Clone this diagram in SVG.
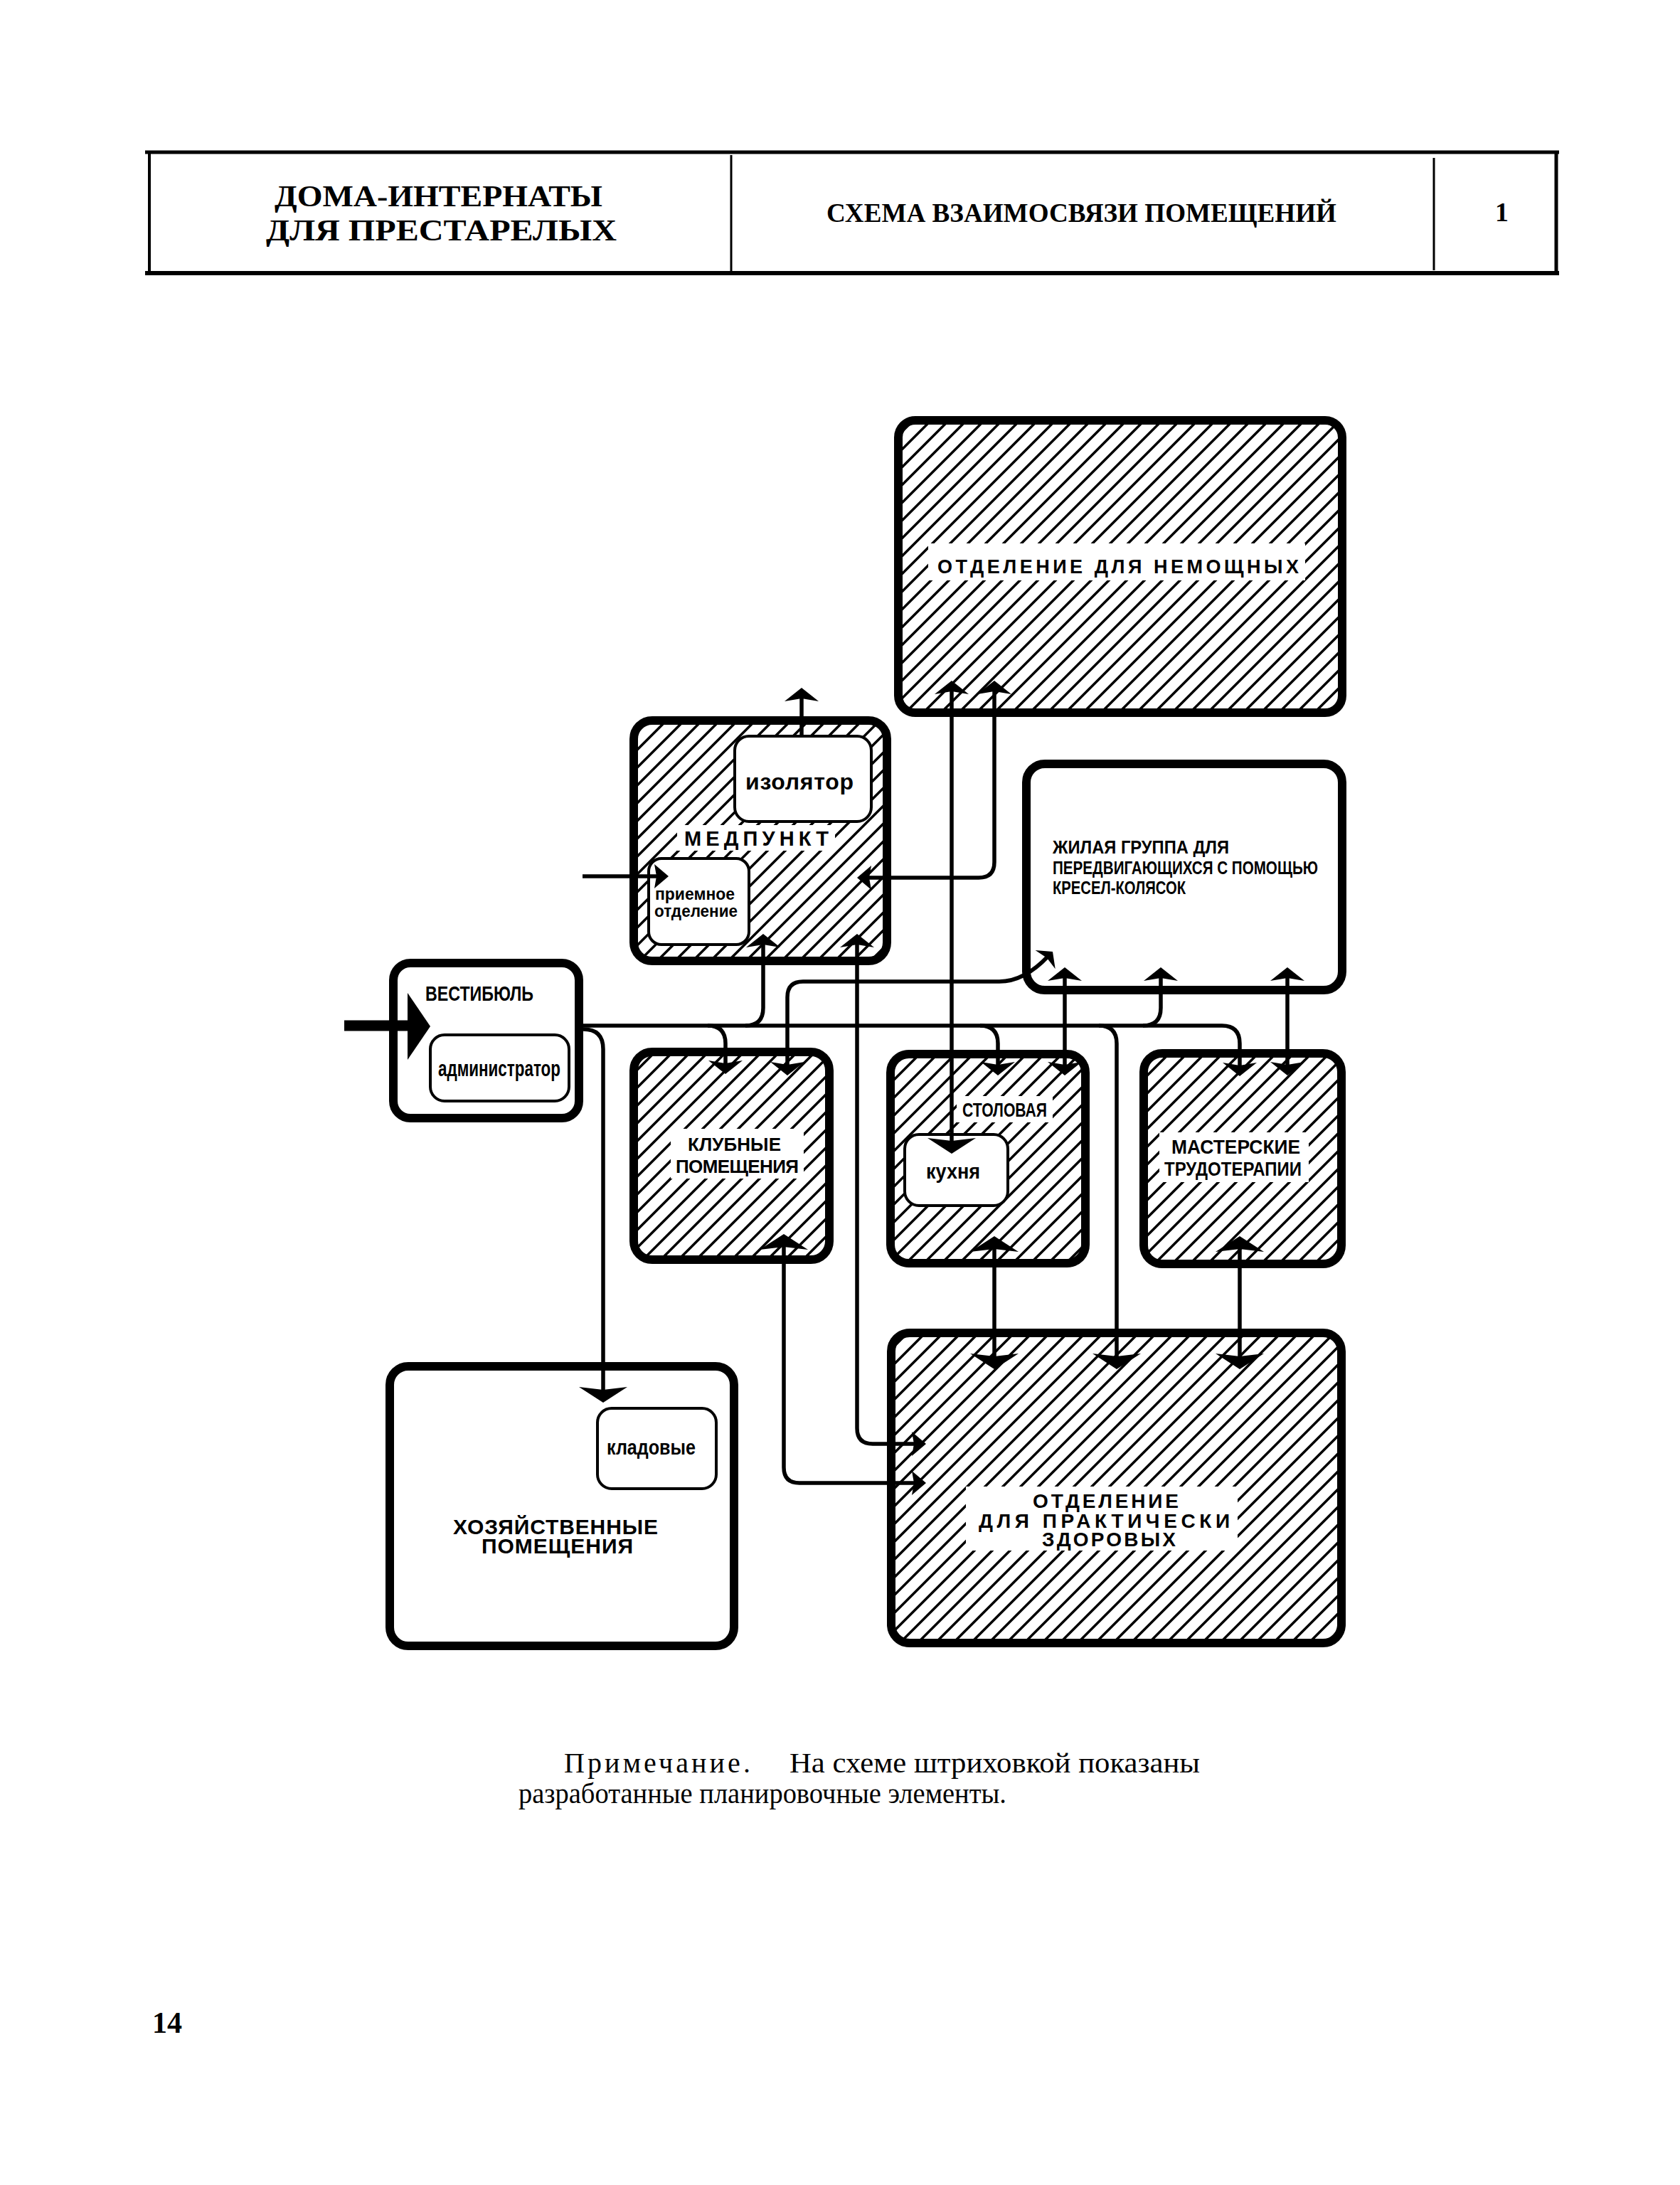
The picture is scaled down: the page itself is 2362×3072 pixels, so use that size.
<svg xmlns="http://www.w3.org/2000/svg" xmlns:xlink="http://www.w3.org/1999/xlink" width="2362" height="3072" viewBox="0 0 2362 3072">
<style>
.box{stroke:#000;stroke-width:12;fill:#fff}
.hb{stroke:#000;stroke-width:12;fill:url(#hatch)}
.inner{stroke:#000;stroke-width:4;fill:#fff}
.gap{fill:#fff}
.ln{stroke:#000;stroke-width:5.5;fill:none}
.hl{stroke:#000;fill:none}
.lbl{font-family:'Liberation Sans Narrow','Liberation Sans',sans-serif;font-weight:bold;fill:#000}
.ser{font-family:'Liberation Serif',serif;fill:#000}
</style>
<defs>
<pattern id="hatch" patternUnits="userSpaceOnUse" width="25" height="25">
<path d="M-6,6 L6,-6 M0,25 L25,0 M19,31 L31,19" stroke="#000" stroke-width="3.5"/>
</pattern>
<path id="as" d="M0,0 L-19,-24 L-15,0 L-19,24 Z"/>
<path id="al" d="M0,0 L-22,-34 L-18,0 L-22,34 Z"/>
<path id="an" d="M0,0 L-20,-17 L-17,0 L-20,17 Z"/>
</defs>
<rect width="2362" height="3072" fill="#fff"/>

<g id="header">
<path class="hl" stroke-width="5" d="M204,214 H2192"/>
<path class="hl" stroke-width="6" d="M204,384 H2192"/>
<path class="hl" stroke-width="4" d="M210,216 V382"/>
<path class="hl" stroke-width="3" d="M1028,218 V382"/>
<path class="hl" stroke-width="3" d="M2016,222 V380"/>
<path class="hl" stroke-width="5" d="M2188,214 V386"/>
<text class="ser" font-weight="bold" font-size="43" x="386" y="290" textLength="461" lengthAdjust="spacingAndGlyphs">ДОМА-ИНТЕРНАТЫ</text>
<text class="ser" font-weight="bold" font-size="43" x="374" y="338" textLength="493" lengthAdjust="spacingAndGlyphs">ДЛЯ ПРЕСТАРЕЛЫХ</text>
<text class="ser" font-weight="bold" font-size="38" x="1162" y="312" textLength="717" lengthAdjust="spacingAndGlyphs">СХЕМА ВЗАИМОСВЯЗИ ПОМЕЩЕНИЙ</text>
<text class="ser" font-weight="bold" font-size="38" x="2102" y="311">1</text>
</g>

<g id="nemoshchnye">
<rect class="hb" x="1263" y="591" width="624" height="411" rx="24"/>
<rect class="gap" x="1305" y="764" width="530" height="52"/>
<text class="lbl" font-size="27" x="1318" y="806" textLength="508" lengthAdjust="spacing">ОТДЕЛЕНИЕ ДЛЯ  НЕМОЩНЫХ</text>
</g>

<g id="medpunkt">
<rect class="hb" x="891" y="1013" width="356" height="338" rx="26"/>
<rect class="gap" x="952" y="1160" width="222" height="36"/>
<text class="lbl" font-size="29" x="962" y="1189" textLength="203" lengthAdjust="spacing">МЕДПУНКТ</text>
<rect class="inner" x="1033" y="1035" width="192" height="120" rx="20"/>
<text class="lbl" font-size="32" x="1048" y="1110" textLength="152" lengthAdjust="spacing">изолятор</text>
<rect class="inner" x="912" y="1207" width="141" height="121" rx="18"/>
<text class="lbl" font-size="24" x="921" y="1265" textLength="112" lengthAdjust="spacingAndGlyphs">приемное</text>
<text class="lbl" font-size="24" x="920" y="1289" textLength="117" lengthAdjust="spacingAndGlyphs">отделение</text>
</g>

<g id="zhilaya">
<rect class="box" x="1443" y="1074" width="444" height="318" rx="26"/>
<text class="lbl" font-size="25" x="1480" y="1200" textLength="248" lengthAdjust="spacingAndGlyphs">ЖИЛАЯ  ГРУППА ДЛЯ</text>
<text class="lbl" font-size="25" x="1480" y="1229" textLength="373" lengthAdjust="spacingAndGlyphs">ПЕРЕДВИГАЮЩИХСЯ  С ПОМОЩЬЮ</text>
<text class="lbl" font-size="25" x="1480" y="1257" textLength="187" lengthAdjust="spacingAndGlyphs">КРЕСЕЛ-КОЛЯСОК</text>
</g>

<g id="vestibul">
<rect class="box" x="553" y="1354" width="261" height="218" rx="24"/>
<text class="lbl" font-size="30" x="598" y="1407" textLength="152" lengthAdjust="spacingAndGlyphs">ВЕСТИБЮЛЬ</text>
<rect class="inner" x="605" y="1455" width="195" height="93" rx="20"/>
<text class="lbl" font-size="32" x="616" y="1513" textLength="172" lengthAdjust="spacingAndGlyphs">администратор</text>
</g>

<g id="klubnye">
<rect class="hb" x="891" y="1479" width="275" height="292" rx="26"/>
<rect class="gap" x="943" y="1587" width="187" height="70"/>
<text class="lbl" font-size="26" x="967" y="1618" textLength="131" lengthAdjust="spacing">КЛУБНЫЕ</text>
<text class="lbl" font-size="26" x="950" y="1649" textLength="173" lengthAdjust="spacing">ПОМЕЩЕНИЯ</text>
</g>

<g id="stolovaya">
<rect class="hb" x="1252" y="1482" width="274" height="294" rx="26"/>
<rect class="gap" x="1345" y="1541" width="135" height="37"/>
<text class="lbl" font-size="28" x="1353" y="1570" textLength="119" lengthAdjust="spacingAndGlyphs">СТОЛОВАЯ</text>
<rect class="inner" x="1272" y="1595" width="145" height="100" rx="20"/>
<text class="lbl" font-size="30" x="1302" y="1657" textLength="76" lengthAdjust="spacingAndGlyphs">кухня</text>
</g>

<g id="masterskie">
<rect class="hb" x="1608" y="1481" width="278" height="296" rx="26"/>
<rect class="gap" x="1630" y="1592" width="210" height="70"/>
<text class="lbl" font-size="27" x="1647" y="1622" textLength="181" lengthAdjust="spacingAndGlyphs">МАСТЕРСКИЕ</text>
<text class="lbl" font-size="27" x="1637" y="1653" textLength="193" lengthAdjust="spacingAndGlyphs">ТРУДОТЕРАПИИ</text>
</g>

<g id="khozyaistvennye">
<rect class="box" x="548" y="1921" width="484" height="393" rx="26"/>
<rect class="inner" x="840" y="1980" width="167" height="113" rx="20"/>
<text class="lbl" font-size="30" x="853" y="2045" textLength="125" lengthAdjust="spacingAndGlyphs">кладовые</text>
<text class="lbl" font-size="30" x="637" y="2157" textLength="288" lengthAdjust="spacing">ХОЗЯЙСТВЕННЫЕ</text>
<text class="lbl" font-size="30" x="677" y="2184" textLength="213" lengthAdjust="spacing">ПОМЕЩЕНИЯ</text>
</g>

<g id="prakticheski">
<rect class="hb" x="1253" y="1874" width="633" height="436" rx="26"/>
<rect class="gap" x="1358" y="2090" width="382" height="90"/>
<text class="lbl" font-size="28" x="1452" y="2120" textLength="205" lengthAdjust="spacing">ОТДЕЛЕНИЕ</text>
<text class="lbl" font-size="28" x="1376" y="2148" textLength="353" lengthAdjust="spacing">ДЛЯ ПРАКТИЧЕСКИ</text>
<text class="lbl" font-size="28" x="1465" y="2174" textLength="188" lengthAdjust="spacing">ЗДОРОВЫХ</text>
</g>

<g id="connectors">
<path d="M484,1442 H578" stroke="#000" stroke-width="15" fill="none"/>
<polygon points="573,1396 605,1443 573,1490"/>
<path class="ln" d="M820,1442 H1718 Q1743,1442 1743,1467 V1505"/>
<path class="ln" d="M820,1447 Q848,1447 848,1475 V1965"/>
<path class="ln" d="M1048,1442 Q1073,1442 1073,1417 V1320"/>
<path class="ln" d="M995,1442 Q1020,1442 1020,1467 V1503"/>
<path class="ln" d="M1107,1505 V1402 Q1107,1380 1129,1380 H1405 Q1440,1380 1474,1344"/>
<path class="ln" d="M1205,1320 V2008 Q1205,2030 1227,2030 H1294"/>
<path class="ln" d="M1338,964 V1614"/>
<path class="ln" d="M1398,964 V1212 Q1398,1234 1376,1234 H1213"/>
<path class="ln" d="M1378,1442 Q1403,1442 1403,1467 V1505"/>
<path class="ln" d="M1497,1367 V1505"/>
<path class="ln" d="M1607,1442 Q1632,1442 1632,1417 V1367"/>
<path class="ln" d="M1545,1442 Q1570,1442 1570,1467 V1917"/>
<path class="ln" d="M1810,1367 V1505"/>
<path class="ln" d="M1102,1743 V2063 Q1102,2085 1124,2085 H1294"/>
<path class="ln" d="M1398,1746 V1917"/>
<path class="ln" d="M1743,1746 V1917"/>
<path class="ln" d="M1127,1035 V975"/>
<path class="ln" stroke-width="7" d="M819,1232 H932"/>

<use href="#as" transform="translate(1020,1510) rotate(90)"/>
<use href="#as" transform="translate(1107,1512) rotate(90)"/>
<use href="#as" transform="translate(1403,1512) rotate(90)"/>
<use href="#as" transform="translate(1497,1512) rotate(90)"/>
<use href="#as" transform="translate(1743,1513) rotate(90)"/>
<use href="#as" transform="translate(1810,1512) rotate(90)"/>
<use href="#as" transform="translate(1497,1360) rotate(-90)"/>
<use href="#as" transform="translate(1632,1360) rotate(-90)"/>
<use href="#as" transform="translate(1810,1360) rotate(-90)"/>
<use href="#as" transform="translate(1338,957) rotate(-90)"/>
<use href="#as" transform="translate(1398,957) rotate(-90)"/>
<use href="#as" transform="translate(1073,1313) rotate(-90)"/>
<use href="#as" transform="translate(1205,1313) rotate(-90)"/>
<use href="#as" transform="translate(1127,967) rotate(-90)"/>
<use href="#as" transform="translate(1480,1338) rotate(-47) scale(0.8)"/>
<use href="#al" transform="translate(1338,1622) rotate(90)"/>
<use href="#al" transform="translate(848,1972) rotate(90)"/>
<use href="#al" transform="translate(1398,1925) rotate(90)"/>
<use href="#al" transform="translate(1570,1925) rotate(90)"/>
<use href="#al" transform="translate(1743,1925) rotate(90)"/>
<use href="#al" transform="translate(1102,1735) rotate(-90)"/>
<use href="#al" transform="translate(1398,1738) rotate(-90)"/>
<use href="#al" transform="translate(1743,1738) rotate(-90)"/>
<use href="#an" transform="translate(1302,2030)"/>
<use href="#an" transform="translate(1302,2085)"/>
<use href="#an" transform="translate(940,1232)"/>
<use href="#an" transform="translate(1205,1234) rotate(180)"/>
</g>

<g id="note">
<text class="ser" font-size="40" x="793" y="2492" textLength="262" lengthAdjust="spacing">Примечание.</text>
<text class="ser" font-size="40" x="1110" y="2492" textLength="577" lengthAdjust="spacingAndGlyphs">На схеме штриховкой показаны</text>
<text class="ser" font-size="40" x="729" y="2535" textLength="686" lengthAdjust="spacingAndGlyphs">разработанные планировочные элементы.</text>
<text class="ser" font-weight="bold" font-size="42" x="214" y="2858">14</text>
</g>
</svg>
